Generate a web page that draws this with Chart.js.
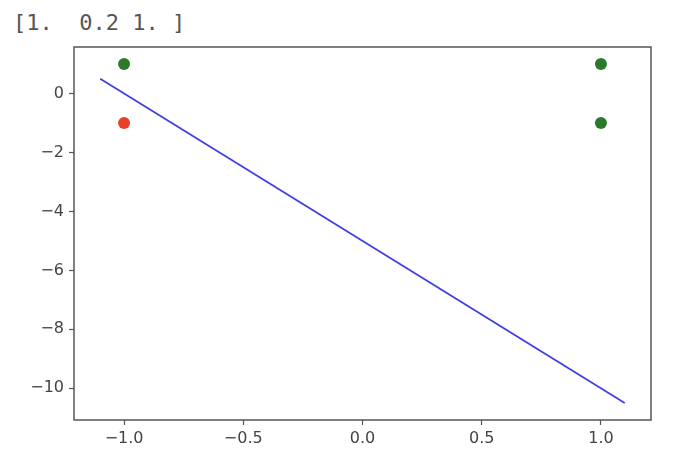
<!DOCTYPE html>
<html>
<head>
<meta charset="utf-8">
<script src="https://cdn.jsdelivr.net/npm/chart.js@4"></script>
<style>
  html, body { margin: 0; padding: 0; background: #fff; }
  #wrap { position: relative; width: 690px; height: 464px; }
  #weights {
    position: absolute; left: 13px; top: 10px;
    font-family: "DejaVu Sans Mono", monospace; font-size: 22px;
    color: #555; white-space: pre; line-height: 26px;
  }
  canvas { position: absolute; left: 0; top: 0; }
</style>
</head>
<body>
<div id="wrap">
  <div id="weights">[1.  0.2 1. ]</div>
  <canvas id="myChart" width="690" height="464"></canvas>
</div>
<script>
// points (x, y) and which class they belong to
const greenX = [-1, 1, 1];
const greenY = [1, 1, -1];
const redX = [-1];
const redY = [-1];

// decision line endpoints
const lineX = [-1.1, 1.1];
const lineY = [0.5, -10.5];

const xTicks = [-1.0, -0.5, 0.0, 0.5, 1.0];
const yTicks = [-10, -8, -6, -4, -2, 0];

const toPoints = (xs, ys) => xs.map((x, i) => ({ x, y: ys[i] }));
const minus = (s) => s.replace('-', '\u2212');

const framePlugin = {
  id: 'frame',
  afterDraw(chart) {
    const { ctx, chartArea } = chart;
    ctx.save();
    ctx.strokeStyle = '#555';
    ctx.lineWidth = 1.5;
    ctx.strokeRect(chartArea.left, chartArea.top,
      chartArea.right - chartArea.left, chartArea.bottom - chartArea.top);
    ctx.restore();
  },
};

const ctx = document.querySelector('#myChart');
// eslint-disable-next-line no-unused-vars
const chart = new Chart(ctx, {
  type: 'scatter',
  data: {
    datasets: [
      {
        label: 'line',
        type: 'line',
        data: toPoints(lineX, lineY),
        borderColor: '#3f3fe6',
        borderWidth: 1.8,
        pointRadius: 0,
        fill: false,
      },
      {
        label: 'green',
        data: toPoints(greenX, greenY),
        backgroundColor: '#2b7a2b',
        borderWidth: 0,
        pointRadius: 6,
      },
      {
        label: 'red',
        data: toPoints(redX, redY),
        backgroundColor: '#e8402a',
        borderWidth: 0,
        pointRadius: 6,
      },
    ],
  },
  options: {
    responsive: false,
    animation: false,
    layout: { padding: { top: 47, right: 39, left: 0, bottom: 0 } },
    plugins: { legend: { display: false }, tooltip: { enabled: false } },
    scales: {
      x: {
        type: 'linear',
        min: -1.21,
        max: 1.21,
        afterBuildTicks: (scale) => { scale.ticks = xTicks.map((v) => ({ value: v })); },
        afterFit: (scale) => { scale.height = 44; },
        grid: { drawOnChartArea: false, tickLength: 5, color: '#555', tickWidth: 1.2 },
        border: { display: false },
        ticks: {
          padding: 4,
          color: '#444',
          font: { family: 'DejaVu Sans', size: 16 },
          callback: (v) => minus(Number(v).toFixed(1)),
        },
      },
      y: {
        type: 'linear',
        min: -11.075,
        max: 1.575,
        afterBuildTicks: (scale) => { scale.ticks = yTicks.map((v) => ({ value: v })); },
        afterFit: (scale) => { scale.width = 74; },
        grid: { drawOnChartArea: false, tickLength: 5, color: '#555', tickWidth: 1.2 },
        border: { display: false },
        ticks: {
          padding: 5,
          color: '#444',
          font: { family: 'DejaVu Sans', size: 16 },
          callback: (v) => minus(String(v)),
        },
      },
    },
  },
  plugins: [framePlugin],
});
</script>
</body>
</html>
